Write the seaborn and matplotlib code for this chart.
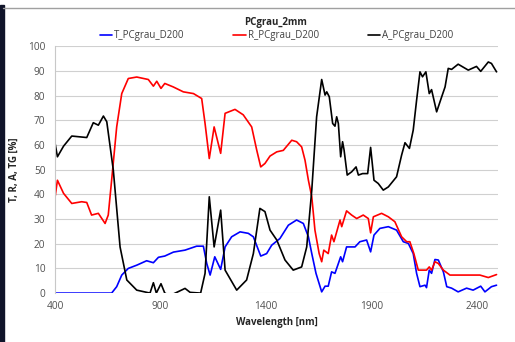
import numpy as np
import pandas as pd
import matplotlib
matplotlib.use('Agg')
import matplotlib.pyplot as plt
from matplotlib.ticker import MultipleLocator
import seaborn as sns

# wavelength [nm] and values [%]
t_nm = [400, 500, 600, 668, 692, 716, 747, 787, 834, 866, 890, 920, 961, 1016, 1071, 1103,
        1119, 1135, 1157, 1185, 1206, 1237, 1277, 1316, 1340, 1375, 1403, 1427, 1466, 1506,
        1545, 1577, 1601, 1617, 1637, 1664, 1680, 1695, 1711, 1727, 1754, 1763, 1782, 1822,
        1845, 1877, 1896, 1912, 1940, 1980, 2019, 2051, 2075, 2098, 2114, 2130, 2154, 2161,
        2174, 2185, 2201, 2217, 2241, 2257, 2280, 2311, 2351, 2382, 2418, 2438, 2469, 2493]
t_val = [0, 0, 0, 0, 2.6, 7.3, 10, 11.3, 13.1, 12.3, 14.5, 15, 16.6, 17.4, 19, 19,
         12, 7.3, 14.7, 9.6, 18.7, 22.8, 24.8, 24.2, 22.8, 15, 16, 19.4, 22.1, 27.5,
         29.6, 28.2, 22.8, 16, 8, 0.5, 2.8, 2.8, 8.6, 8, 14.7, 12.7, 18.7, 18.7,
         20.8, 21.5, 16.7, 23.5, 26.2, 26.9, 25.5, 20.8, 20.1, 16, 8, 2.6, 3.2, 2.2,
         9.3, 8, 13.6, 13.4, 8.6, 2.6, 2, 0.5, 2, 1.2, 2.8, 0.5, 2.6, 3.2]

r_nm = [400, 411, 440, 479, 526, 550, 573, 605, 637, 652, 668, 692, 716, 747, 787, 842,
        866, 882, 902, 920, 960, 1008, 1056, 1095, 1111, 1131, 1154, 1185, 1206, 1253,
        1292, 1332, 1356, 1375, 1395, 1419, 1451, 1482, 1522, 1545, 1569, 1585, 1601, 1617,
        1632, 1652, 1664, 1674, 1695, 1711, 1722, 1751, 1759, 1782, 1806, 1830, 1861, 1885,
        1896, 1909, 1948, 1980, 2011, 2043, 2067, 2082, 2101, 2122, 2161, 2174, 2185, 2201,
        2217, 2241, 2272, 2335, 2414, 2454, 2493]
r_val = [39, 45.7, 40.4, 36.3, 37, 36.7, 31.6, 32.3, 28.2, 31.6, 45.7, 67.3, 80.8, 86.9, 87.5, 86.5,
         83.8, 85.8, 82.9, 84.9, 83.5, 81.5, 80.8, 78.8, 68.7, 54.5, 67.3, 56.6, 72.8, 74.4,
         72.2, 67.3, 57.9, 51.1, 52.5, 55.5, 57.2, 57.8, 61.9, 61.3, 59.2, 53.8, 45.7, 39,
         25.5, 16, 12.7, 17.4, 16, 23.5, 20.8, 29.6, 26.9, 33.3, 31.6, 30.2, 31.6, 30.2,
         24.4, 30.9, 32.3, 30.9, 28.9, 22.8, 20.8, 20.8, 16, 9.3, 9.3, 10.6, 9.3, 12.7,
         12, 9.3, 7.3, 7.3, 7.3, 6.3, 7.5]

a_nm = [400, 411, 440, 479, 550, 581, 605, 629, 645, 676, 708, 740, 787, 850, 866, 880, 902,
        920, 945, 1016, 1040, 1090, 1111, 1131, 1154, 1185, 1206, 1261, 1308, 1340, 1371,
        1395, 1419, 1451, 1490, 1529, 1569, 1593, 1617, 1640, 1664, 1680, 1688, 1700, 1716,
        1727, 1735, 1743, 1754, 1763, 1770, 1785, 1806, 1827, 1838, 1858, 1882, 1896, 1912,
        1932, 1956, 1980, 2019, 2043, 2059, 2080, 2098, 2114, 2130, 2142, 2158, 2174, 2185,
        2209, 2233, 2249, 2264, 2280, 2311, 2359, 2398, 2418, 2454, 2469, 2493]
a_val = [60.6, 55.2, 59.5, 63.6, 63, 69, 68, 71.7, 69.4, 49.8, 18.7, 5.3, 1.2, 0, 4.2, 0, 3.8,
         0, -1, 1.9, 0.3, 0, 8, 39, 18.7, 33.6, 9.3, 1.2, 5.3, 16, 34.3,
         33, 25.5, 21.5, 13.4, 9.3, 10.6, 18.7, 41.7, 71.4, 86.5, 80.2, 81.5, 79.5, 68.7,
         67.6, 71.4, 68.7, 55.2, 61.3, 58, 47.8, 49.1, 51.1, 47.8, 48.4, 48.4, 59, 45.7,
         44.4, 41.7, 43, 47.1, 55.9, 60.9, 58.6, 66, 78.1, 89.6, 87.6, 89.6, 80.8, 82.4,
         73.4, 79.5, 83.5, 91, 90.6, 92.7, 90.3, 91.8, 89.8, 93.6, 93, 89.6]

labels = ['T_PCgrau_D200', 'R_PCgrau_D200', 'A_PCgrau_D200']
colors = ['#0000ff', '#ff0000', '#000000']

sns.set_style('white')
plt.rcParams['font.family'] = ['Open Sans', 'DejaVu Sans']

fig = plt.figure(figsize=(5.15, 3.42), dpi=100)
ax = fig.add_axes([0.107, 0.143, 0.860, 0.722])

for xs, ys, lab, col in zip([t_nm, r_nm, a_nm], [t_val, r_val, a_val], labels, colors):
    df = pd.DataFrame({'nm': xs, 'val': ys})
    sns.lineplot(data=df, x='nm', y='val', ax=ax, color=col, lw=1.2, label=lab)

ax.set_xlim(400, 2500)
ax.set_ylim(0, 100)
ax.set_xticks([400, 900, 1400, 1900, 2400])
ax.set_xticks(list(range(400, 2501, 100)), minor=True)
ax.yaxis.set_major_locator(MultipleLocator(10))
ax.yaxis.set_minor_locator(MultipleLocator(2))
ax.grid(axis='y', which='major', color='#d0d0d0', lw=0.8)
ax.set_axisbelow(True)
for s in ['top', 'right', 'bottom']:
    ax.spines[s].set_visible(False)
ax.spines['left'].set_color('#c8c8c8')
ax.spines['left'].set_linewidth(0.8)
ax.tick_params(axis='both', which='both', colors='#c8c8c8', labelcolor='#505050', labelsize=7.3)
ax.tick_params(axis='y', which='major', length=4, pad=3)
ax.tick_params(axis='y', which='minor', length=2)
ax.tick_params(axis='x', which='major', length=3, pad=3)
ax.tick_params(axis='x', which='minor', length=3)

ax.set_xlabel('Wavelength [nm]', fontsize=7, fontweight='bold', color='#262626', labelpad=3)
ax.set_ylabel('T, R, A, TG [%]', fontsize=7, fontweight='bold', color='#262626', labelpad=6)

fig.text(0.535, 0.935, 'PCgrau_2mm', ha='center', va='center', fontsize=7, fontweight='bold', color='#262626')
ax.legend(loc='lower center', bbox_to_anchor=(0.5, 1.0), ncol=3, frameon=False, fontsize=7,
          handlelength=1.3, handletextpad=0.2, columnspacing=5, borderaxespad=0.1,
          labelcolor='#404040')

# frame of the screenshot: dark strip at left, grey line at top
fig.add_artist(plt.Rectangle((0, 0), 0.007, 0.985, transform=fig.transFigure, color='#10142a'))
fig.add_artist(plt.Line2D([0.006, 1], [0.977, 0.977], transform=fig.transFigure, color='#a0a0a0', lw=1))

fig.savefig('out.png', dpi=100)
